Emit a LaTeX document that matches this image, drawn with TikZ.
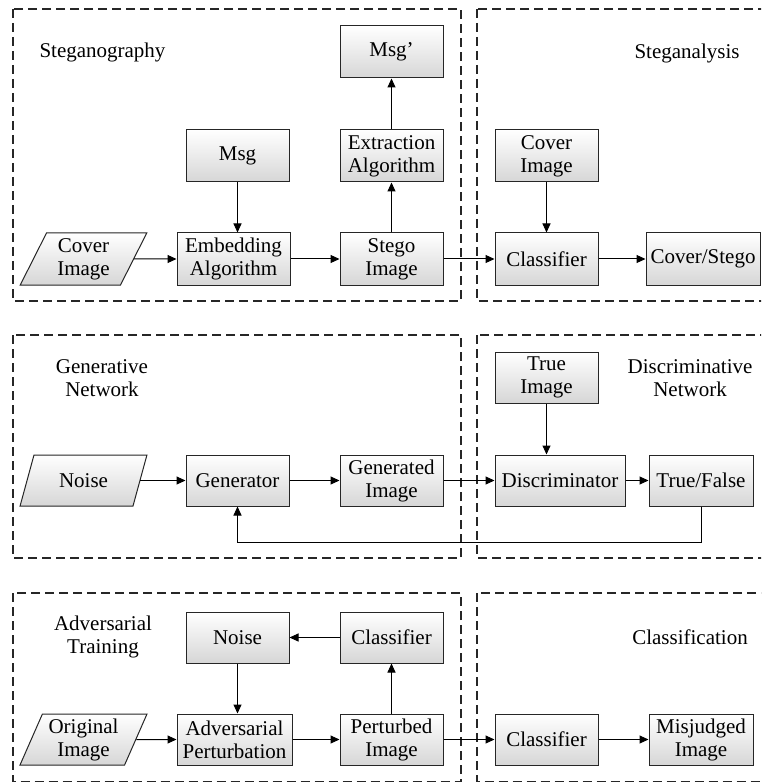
\documentclass[tikz,border=0pt]{standalone}
\usepackage{fontspec}
\setmainfont{Liberation Serif}
\usetikzlibrary{arrows.meta,shapes.geometric}
\begin{document}
\begin{tikzpicture}[x=1pt,y=-1pt,
  font=\fontsize{21}{23}\selectfont,
  boxn/.style={draw=black!85, line width=1pt, top color=white, bottom color=black!16,
    minimum height=52pt, inner sep=1pt, align=center},
  paral/.style={trapezium, trapezium left angle=66, trapezium right angle=114,
    trapezium stretches=true, draw=black!85, line width=1pt, top color=white,
    bottom color=black!16, minimum width=127pt, minimum height=52pt, inner sep=1pt, align=center},
  lbl/.style={align=center, inner sep=0pt},
  region/.style={draw=black!85, line width=1.2pt, dash pattern=on 9pt off 5pt},
  conn/.style={draw=black, line width=1pt, -{Triangle[length=9pt,width=8pt]}}
]
\useasboundingbox (0,0) rectangle (761,783);
\clip (0,0) rectangle (761,783);

% regions
\draw[region] (13,9) rectangle (461,301);
\draw[region] (477,9) rectangle (820,301);
\draw[region] (13,335) rectangle (461,558);
\draw[region] (477,335) rectangle (820,558);
\draw[region] (13,593) rectangle (461,781.5);
\draw[region] (477,593) rectangle (820,781.5);

% ---- top: steganography / steganalysis
\node[lbl] (lstega) at (102.5,52) {Steganography};
\node[lbl] (lsteana) at (687,53) {Steganalysis};
\node[boxn, minimum width=103pt] (msgp) at (391.5,52) {Msg’};
\node[boxn, minimum width=103pt] (ext) at (391.5,156) {Extraction\\Algorithm};
\node[boxn, minimum width=103pt] (msg) at (237.5,156) {Msg};
\node[boxn, minimum width=113pt] (emb) at (233.5,259) {Embedding\\Algorithm};
\node[boxn, minimum width=103pt] (stego) at (391.5,259) {Stego\\Image};
\node[paral] (cov) at (83.5,259) {Cover\\Image};
\node[boxn, minimum width=103pt] (ci2) at (546.5,156) {Cover\\Image};
\node[boxn, minimum width=103pt] (cls1) at (546.5,259) {Classifier};
\node[boxn, minimum width=114pt] (cs) at (703,259) {Cover/Stego};

\draw[conn] (cov.east) -- (emb.west);
\draw[conn] (msg.south) -- (msg.south |- emb.north);
\draw[conn] (emb.east) -- (stego.west);
\draw[conn] (stego.north) -- (ext.south);
\draw[conn] (ext.north) -- (msgp.south);
\draw[conn] (stego.east) -- (cls1.west);
\draw[conn] (ci2.south) -- (cls1.north);
\draw[conn] (cls1.east) -- (cs.west);

% ---- middle: GAN
\node[lbl] (lgen) at (102,378) {Generative\\Network};
\node[lbl] (ldisc) at (690,378) {Discriminative\\Network};
\node[paral, minimum height=51pt] (noise) at (83.5,480.5) {Noise};
\node[boxn, minimum width=103pt, minimum height=51pt] (gen) at (237.5,480.5) {Generator};
\node[boxn, minimum width=103pt, minimum height=51pt] (geni) at (391.5,480.5) {Generated\\Image};
\node[boxn, minimum width=103pt, minimum height=51pt] (ti) at (546.5,377.5) {True\\Image};
\node[boxn, minimum width=130pt, minimum height=51pt] (disc) at (560,480.5) {Discriminator};
\node[boxn, minimum width=104pt, minimum height=51pt] (tf) at (701,480.5) {True/False};
\coordinate (fb) at (0,542);

\draw[conn] (noise.east) -- (gen.west);
\draw[conn] (gen.east) -- (geni.west);
\draw[conn] (geni.east) -- (disc.west);
\draw[conn] (ti.south) -- (ti.south |- disc.north);
\draw[conn] (disc.east) -- (tf.west);
\draw[conn] (tf.south) -- (tf.south |- fb) -- (gen.south |- fb) -- (gen.south);

% ---- bottom: adversarial
\node[lbl] (ladv) at (103,636.5) {Adversarial\\Training};
\node[lbl] (lcls) at (690,637) {Classification};
\node[boxn, minimum width=103pt, minimum height=51pt] (noise2) at (237.5,637.5) {Noise};
\node[boxn, minimum width=103pt, minimum height=51pt] (cls2) at (391.5,637.5) {Classifier};
\node[paral, minimum height=51pt] (orig) at (83.5,739.5) {Original\\Image};
\node[boxn, minimum width=115pt, minimum height=51pt] (adv) at (234.5,739.5) {Adversarial\\Perturbation};
\node[boxn, minimum width=103pt, minimum height=51pt] (pert) at (391.5,739.5) {Perturbed\\Image};
\node[boxn, minimum width=103pt, minimum height=51pt] (cls3) at (546.5,739.5) {Classifier};
\node[boxn, minimum width=104pt, minimum height=51pt] (mis) at (701,739.5) {Misjudged\\Image};

\draw[conn] (cls2.west) -- (noise2.east);
\draw[conn] (noise2.south) -- (noise2.south |- adv.north);
\draw[conn] (orig.east) -- (adv.west);
\draw[conn] (adv.east) -- (pert.west);
\draw[conn] (pert.north) -- (cls2.south);
\draw[conn] (pert.east) -- (cls3.west);
\draw[conn] (cls3.east) -- (mis.west);
\end{tikzpicture}
\end{document}
